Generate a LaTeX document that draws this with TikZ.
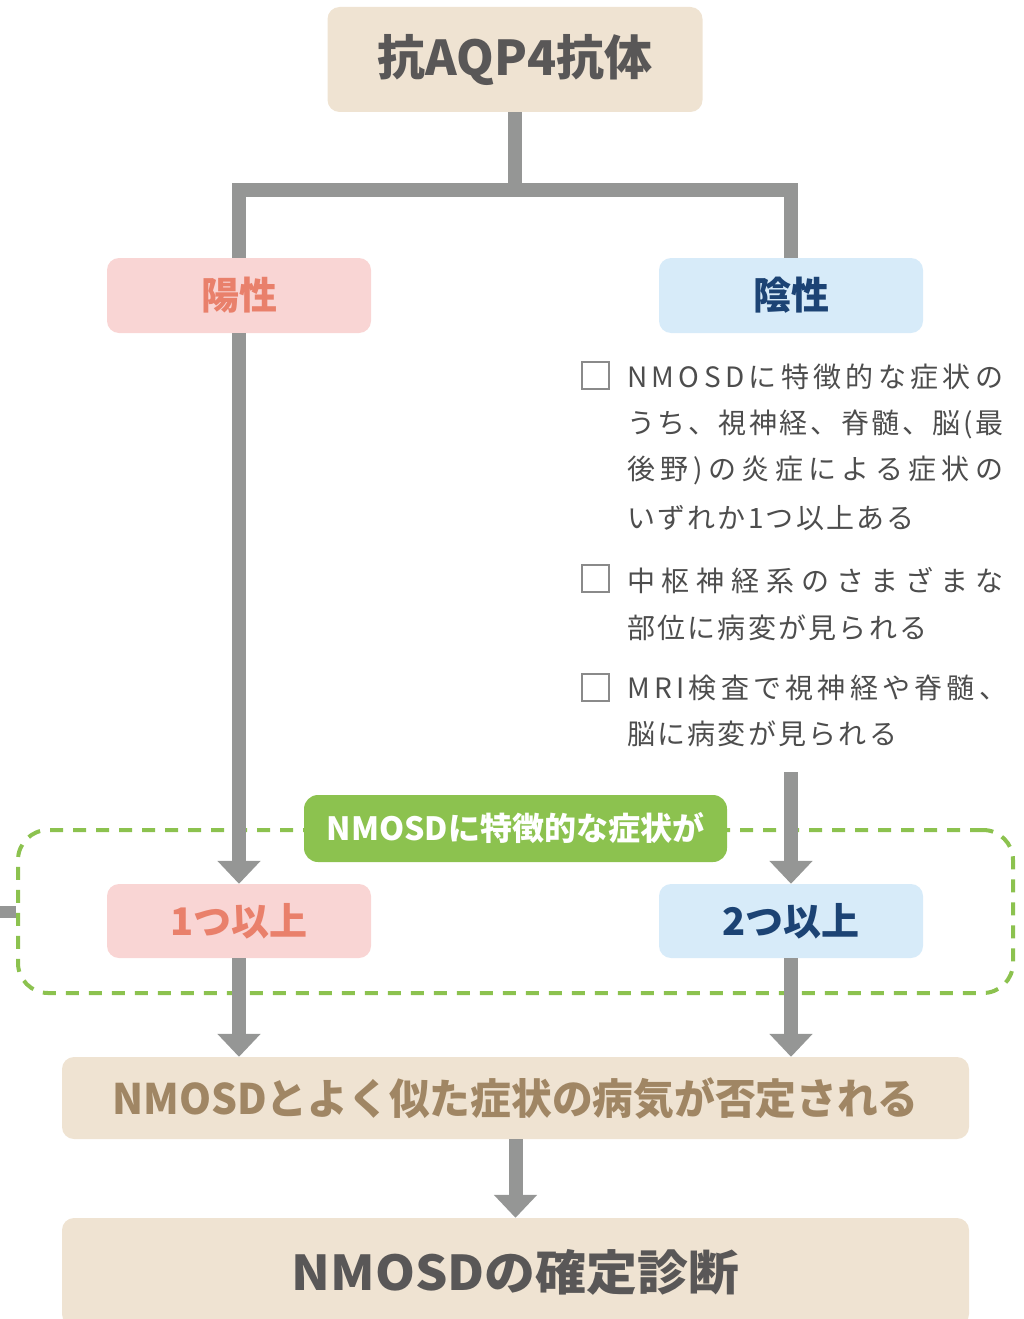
\documentclass[tikz,border=0pt]{standalone}
\usepackage{fontspec}
\usepackage{graphicx}
\setmainfont{Noto Sans CJK JP}
\newfontfamily\listfont[LetterSpace=8]{Noto Sans CJK JP}
\usetikzlibrary{arrows.meta}
\definecolor{lineg}{HTML}{959695}
\definecolor{beige}{HTML}{EFE3D2}
\definecolor{pinkf}{HTML}{F9D5D4}
\definecolor{pinkt}{HTML}{E9806B}
\definecolor{bluef}{HTML}{D7EBF9}
\definecolor{bluet}{HTML}{1C4374}
\definecolor{greenc}{HTML}{8CC24F}
\definecolor{darkt}{HTML}{595757}
\definecolor{brownt}{HTML}{A08664}
\definecolor{listt}{HTML}{4D4D4D}
\definecolor{boxg}{HTML}{8A8A8A}
\newcommand\jstA[1]{\ifx\relax#1\else#1\hfil\expandafter\jstA\fi}
\newcommand\jst[2]{\makebox[#1][s]{\jstA#2\relax\unskip}}
\begin{document}
\begin{tikzpicture}[x=1pt,y=-1pt,
  rbox/.style={rounded corners=12pt, inner sep=0pt, draw=none},
  conn/.style={draw=lineg, line width=14pt},
  arr/.style={conn, -{Triangle[width=42pt,length=23pt]}},
  chk/.style={draw=boxg, line width=2pt, minimum width=27pt, minimum height=27pt, inner sep=0pt},
  ltxt/.style={anchor=base west, inner sep=0pt, text=listt, font=\listfont\fontsize{28}{28}\selectfont}
]
\clip (0,0) rectangle (1024,1319);
\useasboundingbox (0,0) rectangle (1024,1319);

% dashed group
\node[draw=greenc, line width=4pt, dash pattern=on 13pt off 10pt, rounded corners=30pt,
      minimum width=995pt, minimum height=163pt, inner sep=0pt] (group) at (515.5,911.5) {};

% boxes
\node[rbox, fill=beige, minimum width=375pt, minimum height=105pt,
      text=darkt, font=\fontsize{48}{48}\selectfont\bfseries] (top) at (515,59.5) {抗AQP4抗体};
\node[rbox, fill=pinkf, minimum width=264pt, minimum height=75pt,
      text=pinkt, font=\fontsize{38}{38}\selectfont\bfseries] (pos) at (239,295.5) {陽性};
\node[rbox, fill=bluef, minimum width=264pt, minimum height=75pt,
      text=bluet, font=\fontsize{38}{38}\selectfont\bfseries] (neg) at (791,295.5) {陰性};
\node[rbox, fill=pinkf, minimum width=264pt, minimum height=74pt,
      text=pinkt, font=\fontsize{38}{38}\selectfont\bfseries] (one) at (239,921) {1つ以上};
\node[rbox, fill=bluef, minimum width=264pt, minimum height=74pt,
      text=bluet, font=\fontsize{38}{38}\selectfont\bfseries] (two) at (791,921) {2つ以上};
\node[rbox, fill=beige, minimum width=907pt, minimum height=82pt,
      text=brownt, font=\fontsize{42}{42}\selectfont\bfseries] (deny) at (515.5,1098)
      {\scalebox{0.97}[1]{NMOSDとよく似た症状の病気が否定される}};
\node[rbox, fill=beige, minimum width=907pt, minimum height=108pt,
      text=darkt, font=\fontsize{48}{48}\selectfont\bfseries] (final) at (515.5,1272)
      {\scalebox{1.06}[1]{NMOSDの確定診断}};

% checklist
\node[chk] (c1) at (595,375.5) {};
\node[chk] (c2) at (595,578.5) {};
\node[chk] (c3) at (595,687) {};
\node[ltxt] (l1a) at (627,387) {\jst{376pt}{NMOSDに特徴的な症状の}};
\node[ltxt] (l1b) at (627,433) {\jst{376pt}{うち、視神経、脊髄、脳(最}};
\node[ltxt] (l1c) at (627,479) {\jst{376pt}{後野)の炎症による症状の}};
\node[ltxt] (l1d) at (627,528) {いずれか1つ以上ある};
\node[ltxt] (l2a) at (627,591) {\jst{376pt}{中枢神経系のさまざまな}};
\node[ltxt] (l2b) at (627,638) {部位に病変が見られる};
\node[ltxt] (l3a) at (627,698) {\jst{380pt}{MRI検査で視神経や脊髄、}};
\node[ltxt] (l3b) at (627,744) {脳に病変が見られる};

% coordinates
\coordinate (bar) at (515,190);
\coordinate (rstart) at (791,772);
\coordinate (stub) at (0,911.5);

% connectors
\draw[conn] (pos.north) |- (bar) -| (neg.north);
\draw[conn] (top.south) -- (bar);
\draw[arr] (pos.south) -- (one.north);
\draw[arr] (rstart) -- (two.north);
\draw[arr] (one.south) -- (one.south |- deny.north);
\draw[arr] (two.south) -- (two.south |- deny.north);
\draw[arr] (deny.south) -- (final.north);
\draw[conn, line width=12pt] (stub) -- (group.west);

% green label
\node[rounded corners=14pt, fill=greenc, minimum width=423pt, minimum height=67pt, inner sep=0pt,
      text=white, font=\fontsize{32}{32}\selectfont\bfseries] (glabel) at (515.5,828.5)
      {NMOSDに特徴的な症状が};
\end{tikzpicture}
\end{document}
